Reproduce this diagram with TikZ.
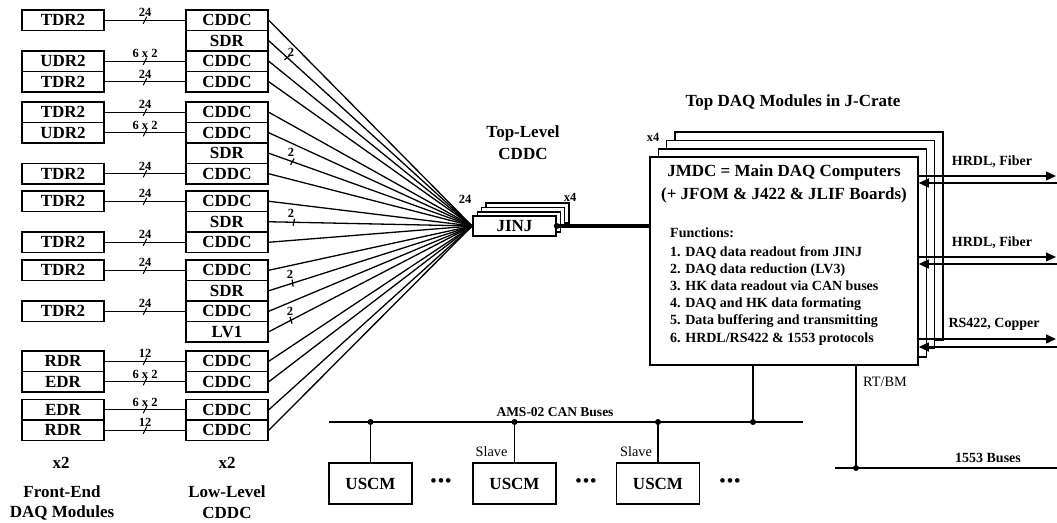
\documentclass[tikz,border=0pt]{standalone}
\usepackage{fontspec}
\setmainfont{Liberation Serif}
\usetikzlibrary{decorations.markings,arrows.meta,calc}
\begin{document}
\begin{tikzpicture}[x=1pt,y=-1pt,
  box/.style={draw, line width=1.6pt, inner sep=0pt, minimum width=82pt, minimum height=20.5pt,
              font=\fontsize{17}{17}\selectfont\bfseries, fill=white},
  lbl/.style={font=\fontsize{12.5}{12.5}\selectfont\bfseries, inner sep=0pt},
  med/.style={font=\fontsize{14}{14}\selectfont\bfseries, inner sep=0pt},
  big/.style={font=\fontsize{17}{17}\selectfont\bfseries, inner sep=0pt},
  plain/.style={font=\fontsize{14.3}{14.3}\selectfont, inner sep=0pt},
  wire/.style={line width=1.3pt},
  bustick/.style={postaction={decorate,decoration={markings,
     mark=at position #1 with {\draw[line width=1pt] (-1.8pt,-3.5pt) -- (1.8pt,3.5pt);}}}},
  fantick/.style={postaction={decorate,decoration={markings,
     mark=at position #1 with {\draw[line width=1.2pt] (-0.6pt,-3.5pt) -- (0.6pt,3.5pt);}}}},
  jdot/.style={circle, fill, inner sep=0pt, minimum size=6pt},
  arr/.style={-{Triangle[length=10pt,width=9pt]}},
]
\useasboundingbox (0,0) rectangle (1057,522);

% ---------- front-end modules ----------
\node[box] (f1)  at (63,20.25)  {TDR2};
\node[box] (f3)  at (63,61.25)  {UDR2};
\node[box] (f4)  at (63,81.75)  {TDR2};
\node[box] (f5)  at (63,112.25) {TDR2};
\node[box] (f6)  at (63,132.75) {UDR2};
\node[box] (f8)  at (63,173.75) {TDR2};
\node[box] (f9)  at (63,201.25) {TDR2};
\node[box] (f11) at (63,242.25) {TDR2};
\node[box] (f12) at (63,270.25) {TDR2};
\node[box] (f14) at (63,311.25) {TDR2};
\node[box] (f16) at (63,361.25) {RDR};
\node[box] (f17) at (63,381.75) {EDR};
\node[box] (f18) at (63,409.75) {EDR};
\node[box] (f19) at (63,430.25) {RDR};

% ---------- low-level CDDC ----------
\node[box] (c1)  at (227,20.25)  {CDDC};
\node[box] (c2)  at (227,40.75)  {SDR};
\node[box] (c3)  at (227,61.25)  {CDDC};
\node[box] (c4)  at (227,81.75)  {CDDC};
\node[box] (c5)  at (227,112.25) {CDDC};
\node[box] (c6)  at (227,132.75) {CDDC};
\node[box] (c7)  at (227,153.25) {SDR};
\node[box] (c8)  at (227,173.75) {CDDC};
\node[box] (c9)  at (227,201.25) {CDDC};
\node[box] (c10) at (227,221.75) {SDR};
\node[box] (c11) at (227,242.25) {CDDC};
\node[box] (c12) at (227,270.25) {CDDC};
\node[box] (c13) at (227,290.75) {SDR};
\node[box] (c14) at (227,311.25) {CDDC};
\node[box] (c15) at (227,331.75) {LV1};
\node[box] (c16) at (227,361.25) {CDDC};
\node[box] (c17) at (227,381.75) {CDDC};
\node[box] (c18) at (227,409.75) {CDDC};
\node[box] (c19) at (227,430.25) {CDDC};

\foreach \n/\t in {1/24,3/{6 x 2},4/24,5/24,6/{6 x 2},8/24,9/24,11/24,12/24,14/24,16/12,17/{6 x 2},18/{6 x 2},19/12}
  \draw[wire, bustick=0.5] (f\n) -- node[lbl, yshift=7.5pt] {\t} (c\n);

\node[big] (xa) at (61,463) {x2};
\node[big] (xb) at (227,463) {x2};
\node[big] (fe1) at (62,492) {Front-End};
\node[big] (fe2) at (62,513) {DAQ Modules};
\node[big] (ll1) at (227,492) {Low-Level};
\node[big] (ll2) at (227,513) {CDDC};

% ---------- JINJ stack ----------
\node[box, minimum width=83pt, minimum height=20pt] (j3) at (527.4,213.1) {};
\node[box, minimum width=83pt, minimum height=20pt] (j2) at (523.1,217.4) {};
\node[box, minimum width=83pt, minimum height=20pt] (j1) at (518.8,221.7) {};
\node[box, minimum width=83pt, minimum height=20pt] (j0) at (514.5,226) {JINJ};

\foreach \n in {1,3,4,5,6,8,9,11,12,14,16,17,18,19}
  \draw[wire] (c\n.east) -- (j0.west);
\foreach \n in {2,7,10,13,15}
  \draw[wire, fantick=25pt] (c\n.east) -- (j0.west);

\node[lbl] (t2a) at (291,52) {2};
\node[lbl] (t2b) at (291,152) {2};
\node[lbl] (t2c) at (291,213) {2};
\node[lbl] (t2d) at (290,274) {2};
\node[lbl] (t2e) at (290,311) {2};

\node[lbl] (n24) at (465,199) {24};
\node[lbl] (jx4) at (570,197) {x4};
\node[big] (tl1) at (523,133) {Top-Level};
\node[big] (tl2) at (523,154) {CDDC};

% ---------- JMDC stack ----------
\node[box, minimum width=268pt, minimum height=208pt] (m3) at (808.9,236.1) {};
\node[box, minimum width=268pt, minimum height=208pt] (m2) at (800.6,244.4) {};
\node[box, minimum width=268pt, minimum height=208pt] (m1) at (792.3,252.7) {};
\node[box, minimum width=268pt, minimum height=208pt] (m0) at (784,261) {};

\node[big] (ttl) at (793,102) {Top DAQ Modules in J-Crate};
\node[lbl] (mx4) at (653,137) {x4};
\node[big] (mt1) at (784,172) {JMDC = Main DAQ Computers};
\node[big] (mt2) at (784,195) {(+ JFOM \& J422 \& JLIF Boards)};
\node[med, anchor=base west] (fn0) at (670,237.5) {Functions:};
\node[med, anchor=base west] (fn1) at (670,256.5) {1. DAQ data readout from JINJ};
\node[med, anchor=base west] (fn2) at (670,273.5) {2. DAQ data reduction (LV3)};
\node[med, anchor=base west] (fn3) at (670,290.5) {3. HK data readout via CAN buses};
\node[med, anchor=base west] (fn4) at (670,307.5) {4. DAQ and HK data formating};
\node[med, anchor=base west] (fn5) at (670,324.5) {5. Data buffering and transmitting};
\node[med, anchor=base west] (fn6) at (670,342.5) {6. HRDL/RS422 \& 1553 protocols};

% thick link JINJ -> JMDC
\draw[line width=3.5pt] (j0.east) -- (m0.west |- j0.east);
\node[jdot] (jd) at (j0.east) {};

% ---------- external links ----------
\coordinate (o1) at (1056,176);
\coordinate (i1) at (1057,183);
\coordinate (o2) at (1056,257);
\coordinate (i2) at (1057,264);
\coordinate (o3) at (1056,339);
\coordinate (i3) at (1057,347);
\foreach \k in {1,2,3}{
  \draw[wire, arr] (m0.east |- o\k) -- (o\k);
  \draw[wire, arr] (i\k) -- (m0.east |- i\k);
}
\node[med] (h1) at (992,162) {HRDL, Fiber};
\node[med] (h2) at (992,243) {HRDL, Fiber};
\node[med] (h3) at (994,324) {RS422, Copper};

% ---------- 1553 bus ----------
\coordinate (rt) at (856,468);
\coordinate (b1) at (835,468);
\coordinate (b2) at (1057,468);
\draw[wire] (b1) -- (b2);
\draw[wire] (m0.south -| rt) -- (rt);
\node[jdot] (rtd) at (rt) {};
\node[plain, anchor=west] (rtbm) at (863,382) {RT/BM};
\node[med] (b15) at (988,458) {1553 Buses};

% ---------- CAN bus ----------
\coordinate (can1) at (329,422);
\coordinate (can2) at (803,422);
\draw[wire] (can1) -- (can2);
\node[lbl, font=\fontsize{13.5}{13.5}\selectfont\bfseries] (canl) at (555,412) {AMS-02 CAN Buses};

\node[box, minimum width=83pt, minimum height=41pt] (u1) at (370.5,483.5) {USCM};
\node[box, minimum width=83pt, minimum height=41pt] (u2) at (514.5,483.5) {USCM};
\node[box, minimum width=83pt, minimum height=41pt] (u3) at (658,483.5) {USCM};

\node[jdot] (d1) at (u1 |- can1) {};
\node[jdot] (d2) at (u2 |- can1) {};
\node[jdot] (d3) at (u3 |- can1) {};
\node[jdot] (d4) at (753,422) {};
\draw[wire] (d1.center) -- (u1.north);
\draw[wire] (d2.center) -- (u2.north);
\draw[wire] (d3.center) -- (u3.north);
\draw[wire] (d4.center) -- (m0.south -| d4);

\node[plain] (s1) at (491.5,452) {Slave};
\node[plain] (s2) at (636,452) {Slave};

\node[big] (e1) at (441,483) {\textbullet\hspace{1.5pt}\textbullet\hspace{1.5pt}\textbullet};
\node[big] (e2) at (586,483) {\textbullet\hspace{1.5pt}\textbullet\hspace{1.5pt}\textbullet};
\node[big] (e3) at (730,483) {\textbullet\hspace{1.5pt}\textbullet\hspace{1.5pt}\textbullet};
\end{tikzpicture}
\end{document}
